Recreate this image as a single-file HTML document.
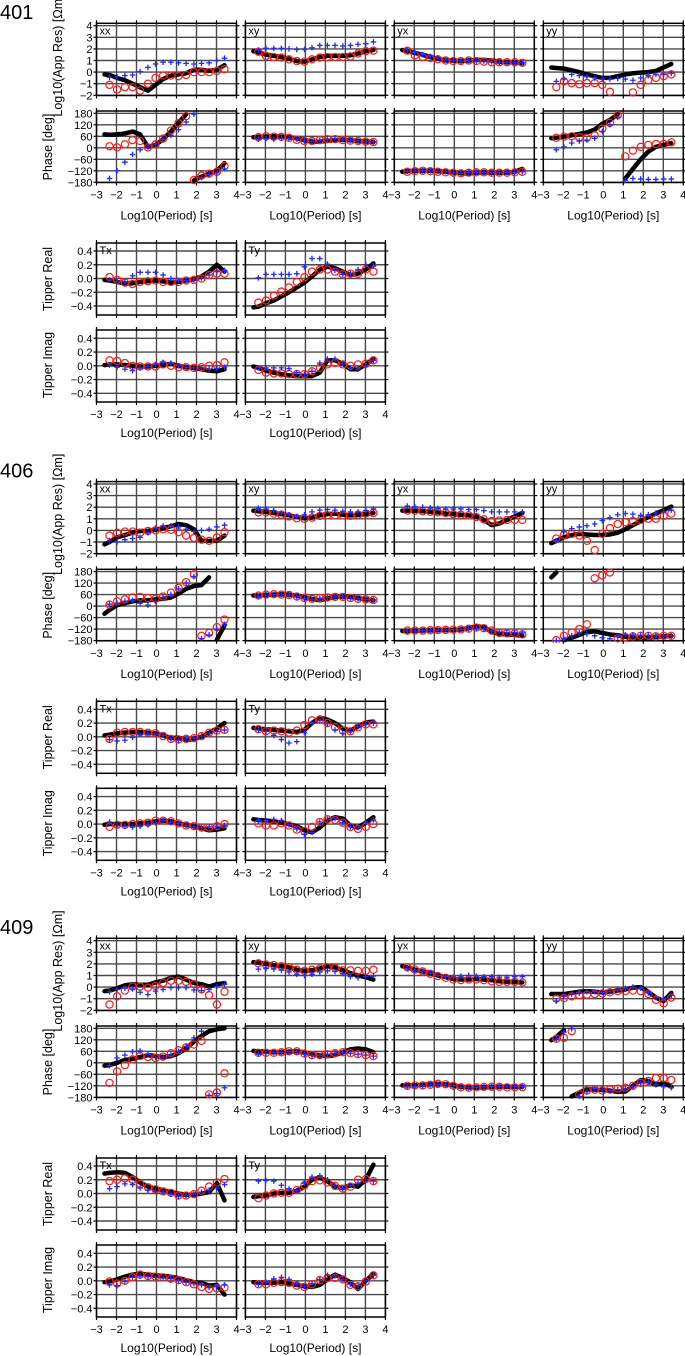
<!DOCTYPE html>
<html><head><meta charset="utf-8"><style>
html,body{margin:0;padding:0;background:#fff;}
svg{display:block;font-family:"Liberation Sans",Arial,sans-serif;}
</style></head><body>
<svg id="fig" width="685" height="1356" viewBox="0 0 685 1356" xmlns="http://www.w3.org/2000/svg"></svg>
<script>
// ---------- period grids (log10 s) ----------
const periodsObs = [-2.35,-1.97,-1.58,-1.2,-0.82,-0.43,-0.05,0.33,0.72,1.1,1.48,1.87,2.25,2.63,3.02,3.4];
const periodsModel = [-2.6,-2.35,-1.97,-1.58,-1.2,-0.82,-0.43,-0.05,0.33,0.72,1.1,1.48,1.87,2.25,2.63,3.02,3.4];
const xTicks = [-3,-2,-1,0,1,2,3,4];
const resTicks = [4,3,2,1,0,-1,-2];
const phaseTicks = [180,120,60,0,-60,-120,-180];
const tipTicks = [0.4,0.2,0.0,-0.2,-0.4];
const tipTickLabels = ["0.4","0.2","0.0","−0.2","−0.4"];
const stations = ["401","406","409"];

// ---------- station 401 ----------
const s401_xx_res_K = [-0.2,-0.25,-0.5,-0.7,-1.0,-1.3,-1.6,-1.1,-0.6,-0.3,-0.2,-0.1,0.2,0.2,0.1,0.2,0.6];
const s401_xx_res_R = [-1.1,-1.5,-1.3,-1.3,-1.6,-1.0,-0.5,-0.3,-0.3,-0.35,-0.25,0,0,0,0.1,0.25];
const s401_xx_res_B = [-0.45,-0.4,-0.3,-0.25,0.05,0.4,0.7,0.85,0.85,0.8,0.75,0.7,0.75,0.8,1.0,1.2];
const s401_xx_ph_K = [70,68,70,75,85,70,5,15,45,85,130,175,-170,-150,-135,-120,-80];
const s401_xx_ph_R = [8,2,18,40,35,2,18,48,90,128,165,-168,-145,-135,-125,-95];
const s401_xx_ph_B = [-160,-120,-75,-35,-10,5,20,45,65,95,135,175,-155,-140,-130,-110];
const s401_xy_res_K = [1.8,1.7,1.5,1.4,1.3,1.15,0.95,0.9,1.1,1.3,1.4,1.4,1.4,1.45,1.6,1.8,1.9];
const s401_xy_res_R = [1.75,1.4,1.3,1.25,1.1,0.95,0.9,1.1,1.25,1.3,1.3,1.3,1.35,1.6,1.8,1.85];
const s401_xy_res_B = [1.9,2.05,2.05,2.05,2.0,1.95,1.95,2.1,2.3,2.3,2.3,2.25,2.3,2.4,2.45,2.6];
const s401_xy_ph_K = [55,57,58,60,58,55,50,40,32,32,37,40,42,40,35,33,30];
const s401_xy_ph_R = [55,60,58,57,52,42,35,35,40,45,45,40,37,35,32,30];
const s401_xy_ph_B = [45,48,45,50,50,45,35,35,40,45,48,42,38,35,32,30];
const s401_yx_res_K = [1.9,1.8,1.65,1.5,1.3,1.15,1.0,1.0,0.95,1.0,1.05,1.05,1.0,0.9,0.85,0.85,0.75];
const s401_yx_res_R = [1.85,1.45,1.3,1.2,1.1,1.0,0.95,0.95,1.0,0.95,0.9,0.85,0.85,0.85,0.85,0.8];
const s401_yx_res_B = [1.9,1.7,1.5,1.35,1.2,1.05,1.0,0.95,1.0,0.95,0.95,0.9,0.85,0.85,0.8,0.8];
const s401_yx_ph_K = [-125,-122,-120,-120,-120,-122,-125,-128,-132,-135,-130,-128,-130,-130,-130,-125,-110];
const s401_yx_ph_R = [-125,-122,-120,-122,-125,-128,-130,-133,-130,-128,-128,-130,-130,-130,-128,-125];
const s401_yx_ph_B = [-122,-122,-120,-120,-123,-125,-130,-133,-130,-128,-128,-130,-130,-128,-128,-125];
const s401_yy_res_K = [0.4,0.35,0.3,0.15,0,-0.2,-0.35,-0.5,-0.5,-0.35,-0.2,-0.1,-0.05,0,0.1,0.4,0.7];
const s401_yy_res_R = [-1.3,-0.8,-0.95,-1.05,-0.95,-0.95,-1.1,-1.7,null,null,-1.75,-1.1,-0.7,-0.5,-0.35,-0.2];
const s401_yy_res_B = [-0.8,-0.6,-0.2,-0.3,-0.4,-0.5,-0.6,-0.6,-0.55,-0.6,-0.7,-0.5,-0.3,-0.2,-0.2,-0.1];
const s401_yy_ph_K = [50,52,58,65,72,80,95,125,145,175,-160,-110,-60,-20,5,15,25];
const s401_yy_ph_R = [52,58,60,55,52,65,100,130,170,-45,-15,5,15,20,20,28];
const s401_yy_ph_B = [-10,5,25,35,40,50,85,120,160,-170,-160,-163,-165,-165,-163,-163];
const s401_txr_K = [-0.02,-0.03,-0.05,-0.07,-0.07,-0.05,-0.04,-0.03,-0.04,-0.06,-0.05,-0.03,-0.01,0.03,0.1,0.2,0.1];
const s401_txr_R = [0.02,-0.02,-0.06,-0.08,-0.05,-0.04,-0.03,-0.05,-0.05,-0.05,-0.03,-0.02,0,0.05,0.07,0.07];
const s401_txr_B = [-0.02,-0.04,-0.05,0.04,0.09,0.09,0.09,0.05,0,-0.03,-0.03,-0.02,0.01,0.05,0.1,0.12];
const s401_tyr_K = [-0.42,-0.41,-0.36,-0.32,-0.26,-0.2,-0.13,-0.06,0.03,0.13,0.17,0.15,0.1,0.05,0.07,0.13,0.22];
const s401_tyr_R = [-0.35,-0.32,-0.25,-0.19,-0.13,-0.05,0.02,0.1,0.13,0.13,0.1,0.06,0.07,0.07,0.13,0.1];
const s401_tyr_B = [0.01,0.06,0.06,0.06,0.06,0.07,0.17,0.29,0.29,0.21,0.12,0.06,0.07,0.13,0.2,0.18];
const s401_txi_K = [0.01,0.02,0.02,0.01,0,-0.01,-0.01,0,0.01,0.03,0,-0.02,-0.03,-0.05,-0.07,-0.08,-0.05];
const s401_txi_R = [0.08,0.07,0.04,0,-0.01,-0.01,-0.01,0.02,0,-0.02,-0.02,-0.03,-0.02,0,0.01,0.05];
const s401_txi_B = [0.01,-0.02,-0.05,-0.07,-0.03,-0.01,0.02,0.05,0.04,0,-0.02,-0.03,-0.03,-0.05,-0.04,-0.02];
const s401_tyi_K = [-0.01,-0.03,-0.07,-0.1,-0.12,-0.14,-0.15,-0.15,-0.15,-0.1,0.08,0.08,0.03,-0.05,-0.05,0.02,0.1];
const s401_tyi_R = [-0.06,-0.1,-0.11,-0.11,-0.12,-0.12,-0.12,-0.08,-0.03,0.02,0.04,0.02,0,0.02,0.03,0.08];
const s401_tyi_B = [-0.03,-0.03,-0.03,-0.03,-0.04,-0.1,-0.12,-0.08,0.04,0.1,0.1,0.03,-0.03,-0.05,0,0.08];

// ---------- station 406 ----------
const s406_xx_res_K = [-1.2,-1.0,-0.6,-0.4,-0.2,-0.05,-0.05,0.05,0.2,0.35,0.55,0.45,0.1,-0.9,-0.9,-0.9,-0.45];
const s406_xx_res_R = [-0.45,-0.2,-0.1,-0.1,-0.2,-0.05,0,0.1,0.05,-0.15,-0.45,-0.65,-0.8,-0.9,-0.6,-0.15];
const s406_xx_res_B = [-0.9,-1.0,-0.8,-0.7,-0.6,-0.2,0.2,0.4,0.4,0.3,0.1,-0.1,0,0.1,0.3,0.45];
const s406_xx_ph_K = [-40,-20,5,15,25,30,30,35,38,45,65,90,105,110,150,-175,-100];
const s406_xx_ph_R = [8,25,35,45,48,42,38,50,70,95,125,165,-155,-140,-110,-70];
const s406_xx_ph_B = [10,15,25,30,15,5,25,45,60,90,120,155,-170,-150,-120,-95];
const s406_xy_res_K = [1.7,1.65,1.6,1.5,1.4,1.3,1.15,1.05,1.1,1.3,1.4,1.45,1.35,1.3,1.35,1.4,1.5];
const s406_xy_res_R = [1.55,1.55,1.45,1.35,1.2,1.05,1.0,1.1,1.25,1.3,1.3,1.3,1.25,1.35,1.45,1.5];
const s406_xy_res_B = [1.9,1.85,1.7,1.5,1.35,1.2,1.35,1.6,1.75,1.8,1.75,1.65,1.6,1.6,1.7,1.85];
const s406_xy_ph_K = [55,55,58,60,62,60,55,45,38,30,40,48,50,48,42,35,30];
const s406_xy_ph_R = [55,60,62,60,58,50,42,38,42,45,48,48,42,38,35,32];
const s406_xy_ph_B = [52,58,60,60,58,50,40,35,40,45,48,48,42,38,35,32];
const s406_yx_res_K = [1.7,1.7,1.7,1.65,1.6,1.55,1.45,1.4,1.35,1.3,1.2,0.9,0.45,0.6,0.9,1.2,1.5];
const s406_yx_res_R = [1.7,1.7,1.65,1.6,1.55,1.5,1.4,1.35,1.3,1.15,0.95,0.8,0.85,0.9,0.9,0.9];
const s406_yx_res_B = [2.1,2.05,2.0,1.95,1.9,1.85,1.85,1.85,1.8,1.8,1.7,1.6,1.6,1.6,1.6,1.6];
const s406_yx_ph_K = [-130,-130,-128,-127,-126,-125,-125,-124,-122,-115,-105,-110,-135,-145,-148,-150,-155];
const s406_yx_ph_R = [-128,-128,-128,-126,-125,-124,-123,-122,-118,-112,-115,-128,-140,-142,-142,-148];
const s406_yx_ph_B = [-130,-130,-128,-126,-125,-124,-123,-122,-118,-115,-118,-130,-135,-138,-138,-140];
const s406_yy_res_K = [-1.1,-0.9,-0.6,-0.4,-0.3,-0.35,-0.4,-0.4,-0.35,-0.2,0.1,0.45,0.8,1.15,1.45,1.75,2.05];
const s406_yy_res_R = [-0.7,-0.4,-0.3,-0.45,-0.9,-1.7,-0.3,0.2,0.55,0.7,0.8,0.9,1.0,1.0,1.25,1.45];
const s406_yy_res_B = [-0.9,-0.1,0.15,0.3,0.4,0.55,0.85,1.1,1.35,1.45,1.4,1.3,1.35,1.5,1.6,1.75];
const s406_yy_ph_K = [150,175,-178,-165,-150,-135,-132,-140,-148,-152,-160,-165,-168,-165,-160,-158,-155];
const s406_yy_ph_R = [-178,-155,-138,-120,-95,145,160,175,-168,-162,-158,-155,-155,-158,-155,-155];
const s406_yy_ph_B = [-180,-170,-155,-140,-145,-155,-165,-170,-160,-150,-150,-152,-152,-155,-155,-155];
const s406_txr_K = [0.02,0.03,0.05,0.06,0.07,0.07,0.06,0.05,0.02,-0.02,-0.01,-0.05,-0.03,0,0.06,0.12,0.2];
const s406_txr_R = [-0.03,0.06,0.07,0.07,0.07,0.06,0.05,0.01,-0.03,-0.04,-0.03,-0.02,0.01,0.06,0.09,0.1];
const s406_txr_B = [-0.04,-0.06,-0.05,-0.01,0.03,0.04,0.04,0.02,-0.03,-0.05,-0.03,-0.02,0.01,0.05,0.08,0.1];
const s406_tyr_K = [0.13,0.12,0.11,0.1,0.09,0.08,0.07,0.1,0.2,0.28,0.25,0.2,0.12,0.09,0.15,0.21,0.22];
const s406_tyr_R = [0.11,0.08,0.09,0.08,0.06,0.09,0.17,0.24,0.25,0.2,0.14,0.09,0.08,0.14,0.18,0.18];
const s406_tyr_B = [0.1,0.08,0.02,-0.04,-0.09,-0.07,0.06,0.2,0.24,0.19,0.1,0.05,0.08,0.15,0.18,0.2];
const s406_txi_K = [-0.01,0,0,0,0,0.01,0.02,0.04,0.05,0.04,0.01,-0.01,-0.03,-0.06,-0.09,-0.08,-0.06];
const s406_txi_R = [-0.04,-0.01,-0.01,0,0.01,0.02,0.05,0.05,0.04,0.01,-0.02,-0.03,-0.05,-0.05,-0.03,0];
const s406_txi_B = [0.03,-0.02,-0.03,-0.04,-0.03,-0.01,0.02,0.05,0.03,0.01,-0.02,-0.04,-0.05,-0.04,-0.03,-0.02];
const s406_tyi_K = [0.07,0.06,0.05,0.04,0.02,0,-0.03,-0.09,-0.12,-0.05,0.05,0.1,0.08,-0.02,-0.05,0.02,0.1];
const s406_tyi_R = [0.01,-0.02,-0.02,0.01,-0.02,-0.08,-0.1,-0.04,0.03,0.07,0.06,0.02,-0.04,-0.07,-0.04,0];
const s406_tyi_B = [0.05,0.05,0.07,0.05,-0.01,-0.07,-0.15,-0.12,0.03,0.07,0.08,0.02,-0.04,-0.05,0.03,0.06];

// ---------- station 409 ----------
const s409_xx_res_K = [-0.35,-0.3,-0.1,0.15,0.25,0.2,0.2,0.4,0.55,0.8,0.9,0.65,0.35,0.25,0.05,0.25,0.35];
const s409_xx_res_R = [-1.5,-0.8,-0.3,0.05,0.05,-0.05,0.1,0.35,0.55,0.55,0.45,0.25,-0.2,-0.7,-1.5,-0.4];
const s409_xx_res_B = [-0.4,-0.2,-0.1,-0.15,-0.45,-0.65,-0.35,-0.2,-0.05,-0.05,-0.05,-0.25,-0.3,-0.2,0.05,0.25];
const s409_xx_ph_K = [-15,-12,0,15,20,30,40,35,30,35,50,75,110,140,165,175,180];
const s409_xx_ph_R = [-105,-45,-12,18,35,30,25,32,50,65,80,95,115,-165,-155,-55];
const s409_xx_ph_B = [-15,25,40,58,62,45,28,30,40,60,85,130,165,-170,-160,-130];
const s409_xy_res_K = [2.15,2.1,2.0,1.9,1.8,1.7,1.5,1.4,1.45,1.6,1.8,1.7,1.45,1.2,1.0,0.85,0.65];
const s409_xy_res_R = [2.05,1.95,1.9,1.8,1.7,1.5,1.4,1.5,1.6,1.7,1.65,1.45,1.45,1.4,1.4,1.5];
const s409_xy_res_B = [1.55,1.6,1.55,1.45,1.3,1.1,1.0,1.1,1.3,1.4,1.35,1.15,0.9,0.8,0.9,0.95];
const s409_xy_ph_K = [62,60,58,55,55,58,60,55,45,38,35,40,55,70,75,70,55];
const s409_xy_ph_R = [52,52,52,55,60,60,48,40,40,45,50,55,50,45,40,35];
const s409_xy_ph_B = [45,50,52,55,58,58,45,38,38,45,50,52,50,45,40,35];
const s409_yx_res_K = [1.8,1.7,1.5,1.35,1.2,1.0,0.85,0.7,0.65,0.65,0.7,0.65,0.6,0.5,0.45,0.45,0.4];
const s409_yx_res_R = [1.7,1.5,1.35,1.15,0.95,0.8,0.65,0.6,0.65,0.65,0.6,0.5,0.45,0.45,0.45,0.4];
const s409_yx_res_B = [1.6,1.45,1.35,1.2,1.0,0.9,0.85,0.95,1.0,0.95,0.9,0.9,0.85,0.85,0.9,0.9];
const s409_yx_ph_K = [-118,-118,-117,-115,-112,-110,-112,-118,-125,-128,-130,-128,-126,-125,-125,-126,-126];
const s409_yx_ph_R = [-120,-118,-118,-115,-110,-112,-120,-128,-130,-128,-126,-125,-125,-128,-128,-127];
const s409_yx_ph_B = [-125,-123,-120,-115,-112,-115,-120,-128,-130,-128,-126,-125,-125,-125,-125,-125];
const s409_yy_res_K = [-0.6,-0.6,-0.6,-0.5,-0.4,-0.35,-0.4,-0.45,-0.4,-0.3,-0.2,-0.05,0,-0.4,-0.9,-1.2,-0.5];
const s409_yy_res_R = [-1.0,-0.95,-0.8,-0.7,-0.65,-0.6,-0.55,-0.45,-0.35,-0.35,-0.3,-0.35,-0.6,-1.1,-1.4,-0.9];
const s409_yy_res_B = [-1.2,-0.8,-0.6,-0.5,-0.4,-0.4,-0.45,-0.4,-0.25,-0.1,0,-0.1,-0.5,-0.9,-1.0,-0.7];
const s409_yy_ph_K = [118,135,170,-175,-155,-138,-140,-142,-145,-152,-150,-120,-90,-95,-115,-105,-125];
const s409_yy_ph_R = [125,130,165,-165,-145,-140,-145,-140,-135,-130,-120,-105,-95,-80,-80,-90];
const s409_yy_ph_B = [125,160,178,-175,-150,-135,-140,-145,-140,-135,-125,-105,-100,-115,-125,-130];
const s409_txr_K = [0.29,0.3,0.31,0.3,0.24,0.16,0.1,0.07,0.05,0.02,0,-0.02,-0.02,0,0.02,0.15,-0.1];
const s409_txr_R = [0.18,0.2,0.22,0.2,0.14,0.09,0.06,0.03,0.01,-0.03,-0.03,-0.01,0.04,0.1,0.16,0.21];
const s409_txr_B = [0.07,0.1,0.14,0.13,0.08,0.05,0.03,0.02,-0.01,-0.04,-0.03,-0.01,0.02,0.05,0.08,0.13];
const s409_tyr_K = [-0.05,-0.04,-0.03,0,0.01,0.01,0.04,0.1,0.2,0.23,0.18,0.1,0.08,0.12,0.1,0.2,0.42];
const s409_tyr_R = [-0.07,-0.03,0,0.01,0.01,0.05,0.12,0.18,0.19,0.16,0.11,0.07,0.1,0.2,0.21,0.18];
const s409_tyr_B = [0.18,0.19,0.18,0.12,0.07,0.04,0.15,0.24,0.26,0.2,0.11,0.07,0.12,0.15,0.2,0.18];
const s409_txi_K = [-0.02,-0.01,0.02,0.06,0.09,0.1,0.09,0.08,0.07,0.06,0.04,0.01,-0.02,-0.03,-0.07,-0.06,-0.2];
const s409_txi_R = [-0.01,-0.04,0,0.05,0.09,0.07,0.06,0.05,0.03,0.01,-0.02,-0.05,-0.09,-0.12,-0.11,-0.1];
const s409_txi_B = [-0.06,-0.07,-0.01,0.05,0.07,0.06,0.05,0.04,0.03,0.01,-0.02,-0.04,-0.06,-0.1,-0.08,-0.06];
const s409_tyi_K = [-0.02,-0.03,-0.03,-0.03,-0.02,-0.04,-0.06,-0.08,-0.09,-0.06,0.02,0.09,0.04,-0.02,-0.12,0,0.1];
const s409_tyi_R = [-0.05,-0.05,-0.03,-0.02,-0.03,-0.07,-0.09,-0.05,0.01,0.04,0.04,0.02,-0.06,-0.08,-0.01,0.08];
const s409_tyi_B = [-0.05,-0.02,0.03,0.05,0.02,-0.05,-0.08,-0.04,0.02,0.08,0.07,0.02,-0.05,-0.07,0,0.08];

const DATA = {
 "401":{xx:[s401_xx_res_K,s401_xx_res_R,s401_xx_res_B,s401_xx_ph_K,s401_xx_ph_R,s401_xx_ph_B],
        xy:[s401_xy_res_K,s401_xy_res_R,s401_xy_res_B,s401_xy_ph_K,s401_xy_ph_R,s401_xy_ph_B],
        yx:[s401_yx_res_K,s401_yx_res_R,s401_yx_res_B,s401_yx_ph_K,s401_yx_ph_R,s401_yx_ph_B],
        yy:[s401_yy_res_K,s401_yy_res_R,s401_yy_res_B,s401_yy_ph_K,s401_yy_ph_R,s401_yy_ph_B],
        Tx:[s401_txr_K,s401_txr_R,s401_txr_B,s401_txi_K,s401_txi_R,s401_txi_B],
        Ty:[s401_tyr_K,s401_tyr_R,s401_tyr_B,s401_tyi_K,s401_tyi_R,s401_tyi_B]},
 "406":{xx:[s406_xx_res_K,s406_xx_res_R,s406_xx_res_B,s406_xx_ph_K,s406_xx_ph_R,s406_xx_ph_B],
        xy:[s406_xy_res_K,s406_xy_res_R,s406_xy_res_B,s406_xy_ph_K,s406_xy_ph_R,s406_xy_ph_B],
        yx:[s406_yx_res_K,s406_yx_res_R,s406_yx_res_B,s406_yx_ph_K,s406_yx_ph_R,s406_yx_ph_B],
        yy:[s406_yy_res_K,s406_yy_res_R,s406_yy_res_B,s406_yy_ph_K,s406_yy_ph_R,s406_yy_ph_B],
        Tx:[s406_txr_K,s406_txr_R,s406_txr_B,s406_txi_K,s406_txi_R,s406_txi_B],
        Ty:[s406_tyr_K,s406_tyr_R,s406_tyr_B,s406_tyi_K,s406_tyi_R,s406_tyi_B]},
 "409":{xx:[s409_xx_res_K,s409_xx_res_R,s409_xx_res_B,s409_xx_ph_K,s409_xx_ph_R,s409_xx_ph_B],
        xy:[s409_xy_res_K,s409_xy_res_R,s409_xy_res_B,s409_xy_ph_K,s409_xy_ph_R,s409_xy_ph_B],
        yx:[s409_yx_res_K,s409_yx_res_R,s409_yx_res_B,s409_yx_ph_K,s409_yx_ph_R,s409_yx_ph_B],
        yy:[s409_yy_res_K,s409_yy_res_R,s409_yy_res_B,s409_yy_ph_K,s409_yy_ph_R,s409_yy_ph_B],
        Tx:[s409_txr_K,s409_txr_R,s409_txr_B,s409_txi_K,s409_txi_R,s409_txi_B],
        Ty:[s409_tyr_K,s409_tyr_R,s409_tyr_B,s409_tyi_K,s409_tyi_R,s409_tyi_B]}
};

const NS = "http://www.w3.org/2000/svg";
const svg = document.getElementById('fig');
function mk(tag, attrs, parent){
  const e = document.createElementNS(NS, tag);
  for (const k in attrs) e.setAttribute(k, attrs[k]);
  parent.appendChild(e);
  return e;
}
const offsets = [0, 458.3, 915];
const colLefts = [96.5, 245.4, 394.3, 543.3];
const PW = 140;
function xScale(L, v){ return L + (v + 3) * PW / 7; }

function drawPanel(g, L, top, bottom, yMap, yVals, wrap, name, label, arrs, yLabels, xLabels){
  const pg = mk('g', {}, g);
  
  
  for (const v of yVals){
    const y = yMap(v);
    const ln = mk('line', {x1:L, x2:L+PW, y1:y, y2:y, stroke:'#4a4a4a', 'stroke-width':1.4}, pg);
    
    
    const tk = mk('line', {x1:L-3, x2:L, y1:y, y2:y, stroke:'#000', 'stroke-width':1.2}, pg);
    
    
    mk('line', {x1:L+PW, x2:L+PW+3, y1:y, y2:y, stroke:'#000', 'stroke-width':1.2}, pg);
  }
  for (const v of xTicks){
    const x = xScale(L, v);
    const ln = mk('line', {x1:x, x2:x, y1:top, y2:bottom, stroke:'#4a4a4a', 'stroke-width':1.4}, pg);
    
    
    mk('line', {x1:x, x2:x, y1:bottom, y2:bottom+3, stroke:'#000', 'stroke-width':1.2}, pg);
    mk('line', {x1:x, x2:x, y1:top-3, y2:top, stroke:'#000', 'stroke-width':1.2}, pg);
  }
  const fr = mk('rect', {x:L, y:top, width:PW, height:bottom-top, fill:'none', stroke:'#000', 'stroke-width':1.5}, pg);
  
  
  if (label){
    const t = mk('text', {x:L+3, y:top+11, 'font-size':11, fill:'#000'}, pg);
    t.textContent = label;
    
    
  }
  if (yLabels){
    yVals.forEach((v,i)=>{
      const t = mk('text', {x:L-4, y:yMap(v)+4, 'font-size':11, 'text-anchor':'end', fill:'#000'}, pg);
      t.textContent = yLabels[i];
      
      
    });
  }
  if (xLabels){
    xTicks.forEach(v=>{
      const t = mk('text', {x:xScale(L,v), y:bottom+16, 'font-size':11, 'text-anchor':'middle', fill:'#000'}, pg);
      t.textContent = v < 0 ? '−' + Math.abs(v) : String(v);
      
      
    });
  }
  const clipId = 'c' + Math.round(L) + '_' + Math.round(top);
  const cp = mk('clipPath', {id:clipId}, pg);
  mk('rect', {x:L, y:top-2, width:PW, height:bottom-top+4}, cp);
  const dg = mk('g', {'clip-path':'url(#'+clipId+')'}, pg);
  const K = arrs[0];
  let seg = [];
  const segs = [];
  for (let i=0;i<K.length;i++){
    const v = K[i];
    if (v === null){ if(seg.length) segs.push(seg); seg=[]; continue; }
    if (wrap && seg.length && Math.abs(v - K[i-1]) > 180){ segs.push(seg); seg=[]; }
    seg.push([xScale(L, periodsModel[i]), yMap(v)]);
  }
  if (seg.length) segs.push(seg);
  for (const s of segs){
    const pl = mk('polyline', {points:s.map(p=>p.join(',')).join(' '), fill:'none', stroke:'#000', 'stroke-width':4.5, 'stroke-linejoin':'round', 'stroke-linecap':'round'}, dg);
    
    
  }
  arrs[1].forEach((v,i)=>{
    if (v === null) return;
    const c = mk('circle', {cx:xScale(L, periodsObs[i]), cy:yMap(v), r:3.6, fill:'none', stroke:'#ff1a1a', 'stroke-width':1.2}, dg);
    
    
  });
  arrs[2].forEach((v,i)=>{
    if (v === null) return;
    const x = xScale(L, periodsObs[i]), y = yMap(v);
    const p = mk('path', {d:`M${x-2.8},${y}H${x+2.8}M${x},${y-2.8}V${y+2.8}`, stroke:'#1f2bff', 'stroke-width':1.3, fill:'none'}, dg);
    
    
  });
}

function rotLabel(g, x, y, txt, name){
  const t = mk('text', {x:x, y:y, 'font-size':12.5, 'text-anchor':'middle', transform:`rotate(-90 ${x} ${y})`, fill:'#000'}, g);
  t.textContent = txt;
  
  
}

const comps = ['xx','xy','yx','yy'];
const resLabels = ['4','3','2','1','0','−1','−2'];
const phLabels = ['180','120','60','0','−60','−120','−180'];

stations.forEach((st, si)=>{
  const O = offsets[si];
  const g = mk('g', {}, svg);
  
  
  const title = mk('text', {x:0, y:O+19, 'font-size':20, fill:'#000'}, g);
  title.textContent = st;
  
  
  const resMap = v => O + 25.7 + (4 - v) * 11.6;
  const phMap = v => O + 113.3 + (180 - v) * 69 / 360;
  comps.forEach((c, ci)=>{
    const L = colLefts[ci];
    const a = DATA[st][c];
    drawPanel(g, L, O+23.3, O+95.5, resMap, resTicks, false, 'app-res-'+c, c, [a[0],a[1],a[2]], ci===0?resLabels:null, false);
    drawPanel(g, L, O+111, O+182.5, phMap, phaseTicks, true, 'phase-'+c, null, [a[3],a[4],a[5]], ci===0?phLabels:null, true);
    const xl = mk('text', {x:L+PW/2, y:O+219.5, 'font-size':12, 'text-anchor':'middle', fill:'#000'}, g);
    xl.textContent = 'Log10(Period) [s]';
    
    
  });
  rotLabel(g, 62, O+56, 'Log10(App Res) [Ωm]', 'y-axis-title-app-res');
  rotLabel(g, 52, O+147, 'Phase [deg]', 'y-axis-title-phase');
  const trMap = v => O + 251 + (0.4 - v) * 68.75;
  const tiMap = v => O + 338.3 + (0.4 - v) * 68.75;
  ['Tx','Ty'].forEach((c, ci)=>{
    const L = colLefts[ci];
    const a = DATA[st][c];
    drawPanel(g, L, O+243, O+315, trMap, tipTicks, false, 'tipper-real-'+c, c, [a[0],a[1],a[2]], ci===0?tipTickLabels:null, false);
    drawPanel(g, L, O+330, O+402, tiMap, tipTicks, false, 'tipper-imag-'+c, null, [a[3],a[4],a[5]], ci===0?tipTickLabels:null, true);
    const xl = mk('text', {x:L+PW/2, y:O+437, 'font-size':12, 'text-anchor':'middle', fill:'#000'}, g);
    xl.textContent = 'Log10(Period) [s]';
    
    
  });
  rotLabel(g, 52, O+279, 'Tipper Real', 'y-axis-title-tipper-real');
  rotLabel(g, 52, O+365, 'Tipper Imag', 'y-axis-title-tipper-imag');
});
</script>
</body></html>
